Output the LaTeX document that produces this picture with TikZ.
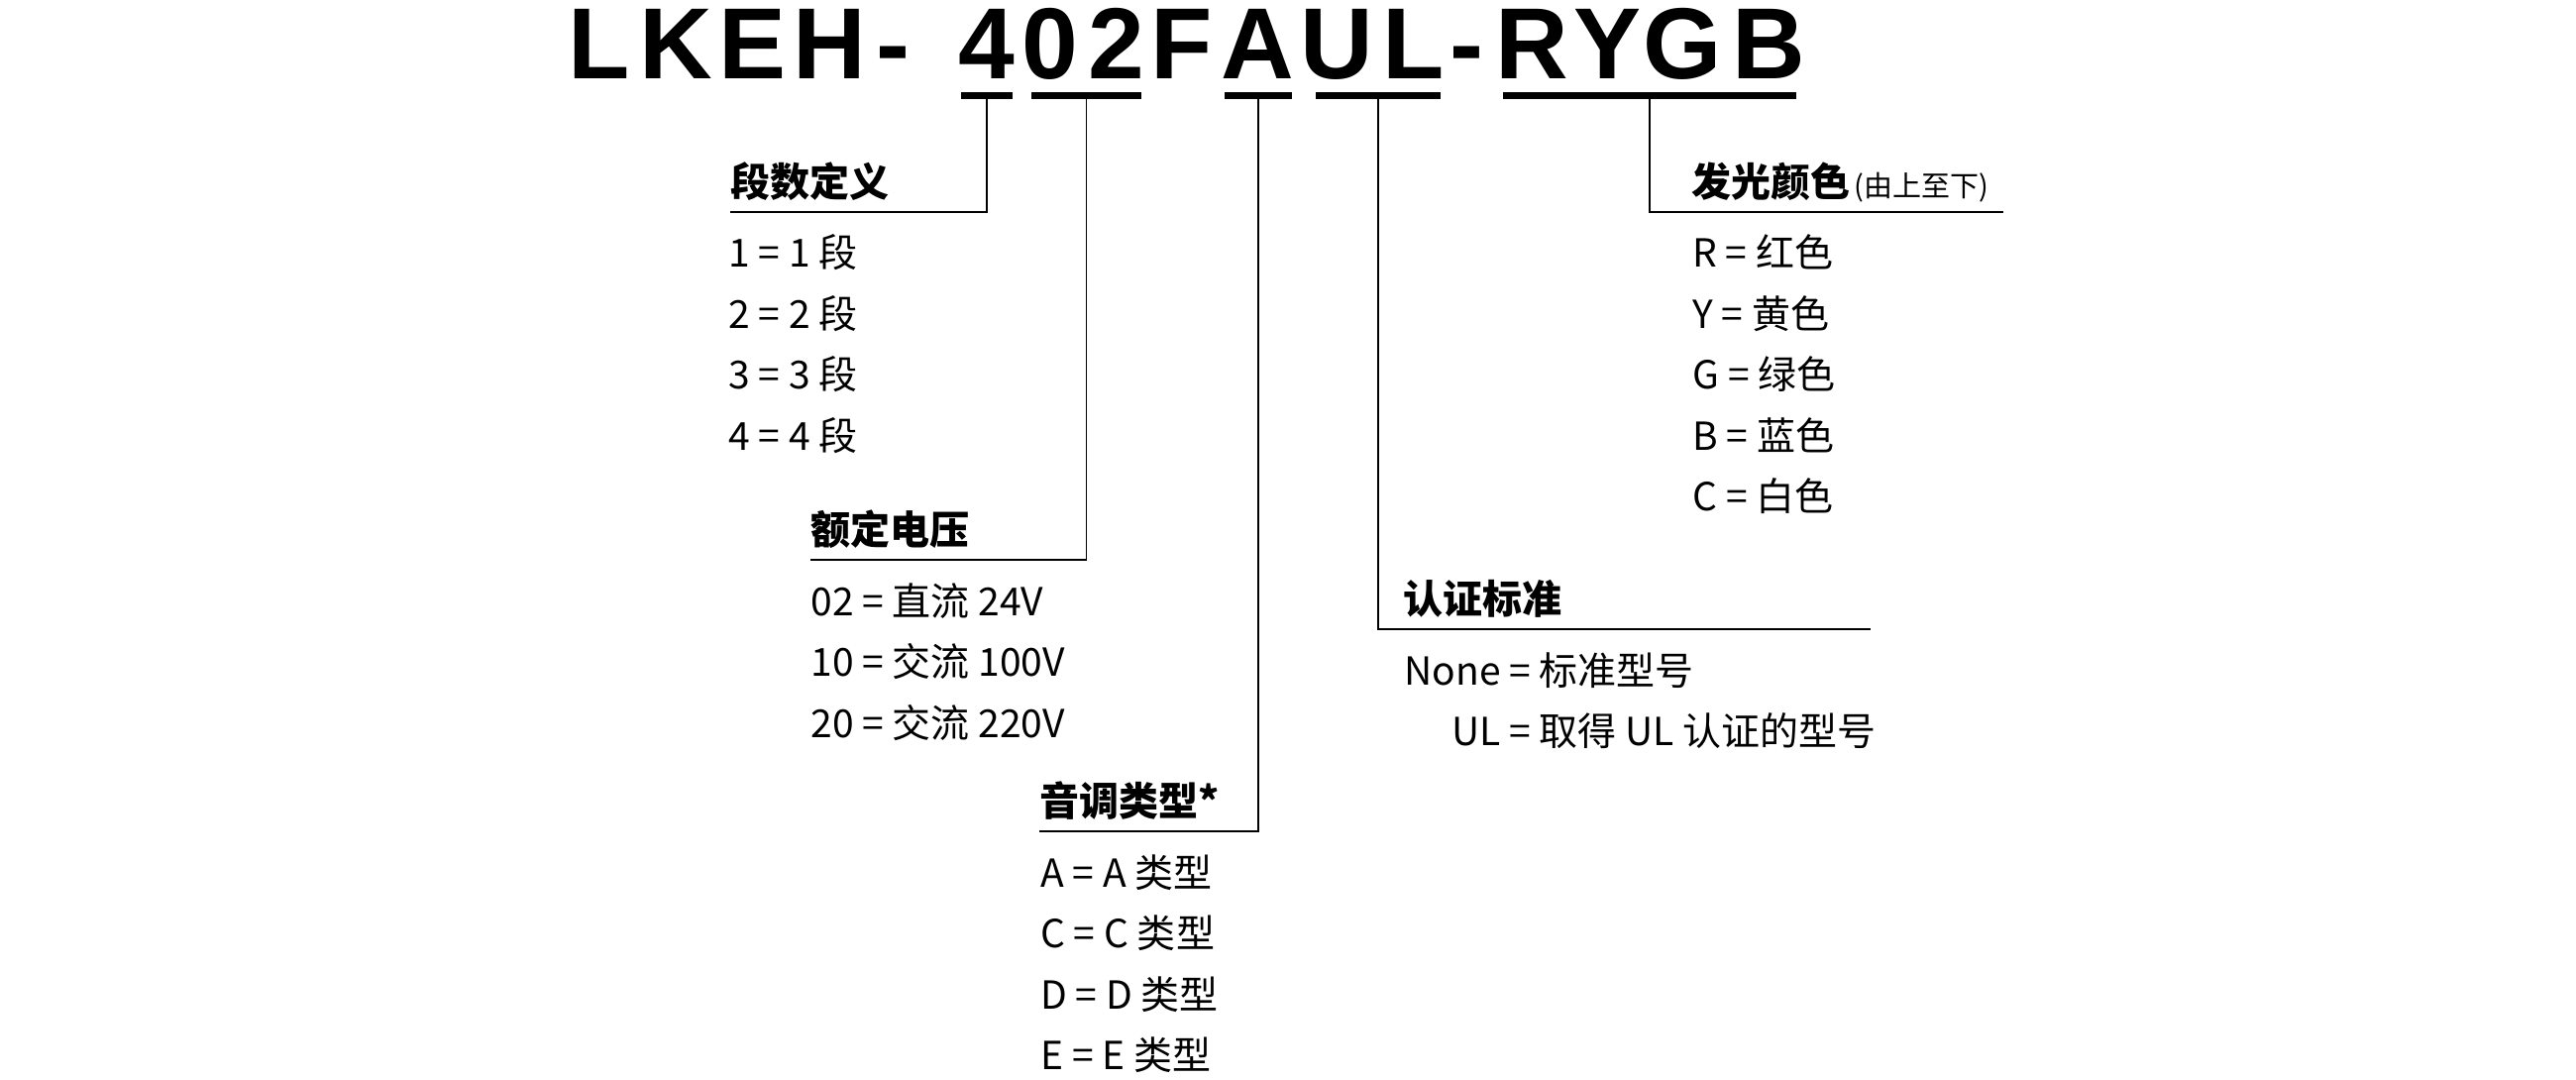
\documentclass[tikz,border=0pt]{standalone}
\usepackage{fontspec}
\setmainfont{Noto Sans CJK SC}
\newfontfamily\ttlfont{Liberation Sans}
\usetikzlibrary{positioning}

\begin{document}
\begin{tikzpicture}[x=0.5pt,y=-0.5pt,
  ttl/.style={anchor=base,inner sep=0pt,font=\ttlfont\fontsize{51}{51}\bfseries},
  bar/.style={fill=black,inner sep=0pt,minimum height=3.5pt},
  lead/.style={line width=0.9pt},
  hd/.style={anchor=south west,inner sep=0pt,text depth=7.5pt,font=\fontsize{20}{24}\bfseries},
  hdr/.style={hd,anchor=south east,align=left},
  itm/.style={anchor=base west,inner sep=0pt,font=\fontsize{19.5}{24}\selectfont}]
\useasboundingbox (0,0) rectangle (2600,1090);
% model code
\foreach \x/\c [count=\i] in {605/L,682/K,760/E,837/H,901/-,996/4,1060/0,1127/2,1193/F,
  1269/A,1349/U,1427/L,1480/-,1546/R,1622/Y,1698/G,1785/B}
  \node[ttl] (t\i) at (\x,80) {\c};
% underline bars
\node[bar,minimum width=26pt] (u1) at (996,96.5) {};
\node[bar,minimum width=55.5pt] (u2) at (1096.5,96.5) {};
\node[bar,minimum width=34pt] (u3) at (1270,96.5) {};
\node[bar,minimum width=63pt] (u4) at (1391,96.5) {};
\node[bar,minimum width=148pt] (u5) at (1665,96.5) {};
% headings
\node[hd] (h1) at (737,214) {段数定义};
\node[hd] (h2) at (818,565) {额定电压};
\node[hd] (h3) at (1049,839) {音调类型*};
\node[hdr,text width=157pt] (h5) at (2022,214) {发光颜色\hspace{2pt}{\mdseries\fontsize{14.5}{16}\selectfont(由上至下)}};
\node[hdr,text width=235.5pt] (h4) at (1888,635) {认证标准};
% leaders
\draw[lead] (u1.south) |- (h1.south west);
\draw[lead] (u2.south) |- (h2.south west);
\draw[lead] (u3.south) |- (h3.south west);
\draw[lead] (u4.south) |- (h4.south east);
\draw[lead] (u5.south) |- (h5.south east);
% options
\foreach \t [count=\i] in {1 = 1 段,2 = 2 段,3 = 3 段,4 = 4 段}
  \node[itm] (a\i) at (735,208.5+61.5*\i) {\t};
\foreach \t [count=\i] in {02 = 直流 24V,10 = 交流 100V,20 = 交流 220V}
  \node[itm] (b\i) at (818,559.5+61.5*\i) {\t};
\foreach \t [count=\i] in {A = A 类型,C = C 类型,D = D 类型,E = E 类型}
  \node[itm] (c\i) at (1050,833.5+61.5*\i) {\t};
\node[itm] (d1) at (1417,691) {None = 标准型号};
\node[itm] (d2) at (1465,752.5) {UL = 取得 UL 认证的型号};
\foreach \t [count=\i] in {R = 红色,Y = 黄色,G = 绿色,B = 蓝色,C = 白色}
  \node[itm] (e\i) at (1708,208.5+61.5*\i) {\t};
\end{tikzpicture}
\end{document}
